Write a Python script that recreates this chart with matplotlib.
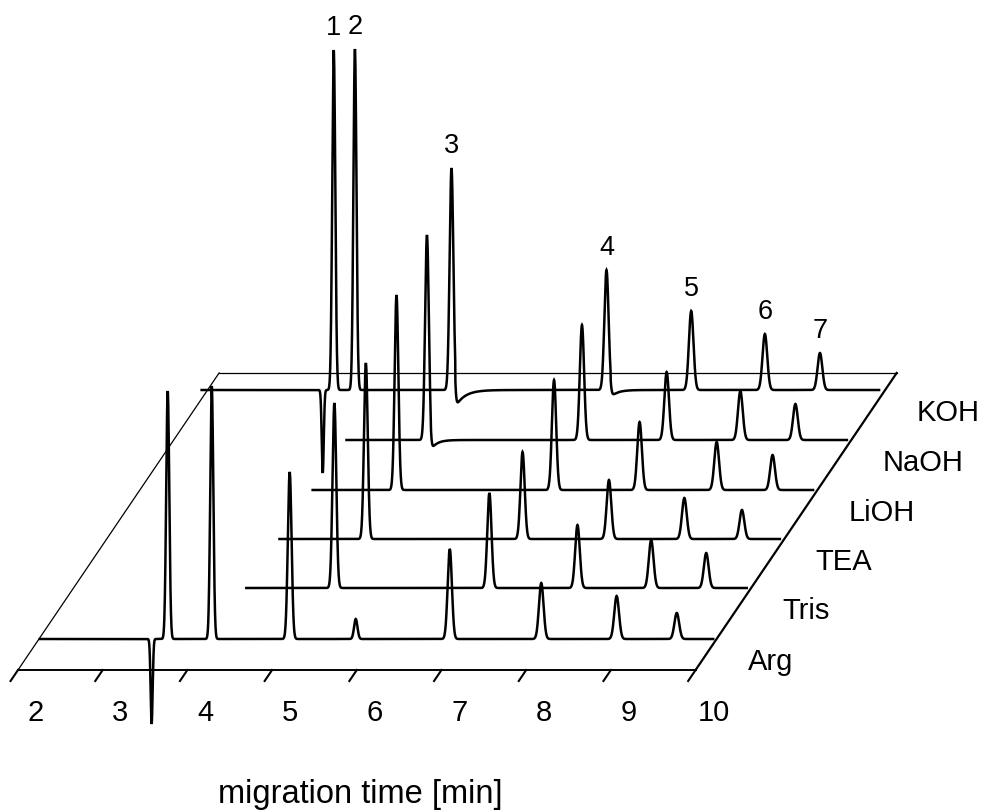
"""
Stacked electropherograms of the seven analytes with different background-electrolyte counter-ions.
"""

import matplotlib

matplotlib.use("Agg")
import matplotlib.pyplot as plt
import matplotlib.transforms as mtransforms
import numpy as np

# traces, front to back
BUFFERS = ["Arg", "Tris", "TEA", "LiOH", "NaOH", "KOH"]
T_START = [2.01, 4.04, 4.04, 4.04, 4.04, 1.93]
T_END = [9.96, 9.95, 9.95, 9.95, 9.95, 9.93]

# peak migration times [min], heights and widths [min]
ARG_TIMES = [3.52, 4.04, 4.96, 5.74, 6.85, 7.93, 8.82, 9.53]
ARG_HEIGHTS = [248, 253, 167, 20, 90, 56, 43, 26]
ARG_WIDTHS = [0.018, 0.018, 0.022, 0.02, 0.025, 0.027, 0.028, 0.028]

TRIS_TIMES = [5.08, 6.91, 7.95, 8.82, 9.47]
TRIS_HEIGHTS = [185, 95, 63, 48, 35]
TRIS_WIDTHS = [0.022, 0.025, 0.027, 0.028, 0.028]

TEA_TIMES = [5.06, 6.91, 7.93, 8.82, 9.50]
TEA_HEIGHTS = [176, 87, 59, 41, 29]
TEA_WIDTHS = [0.022, 0.025, 0.027, 0.028, 0.028]

LIOH_TIMES = [5.03, 6.89, 7.90, 8.81, 9.47]
LIOH_HEIGHTS = [195, 110, 68, 48, 35]
LIOH_WIDTHS = [0.022, 0.025, 0.027, 0.028, 0.028]

NAOH_TIMES = [4.99, 6.82, 7.82, 8.69, 9.34]
NAOH_HEIGHTS = [205, 115, 68, 49, 36]
NAOH_WIDTHS = [0.022, 0.025, 0.027, 0.028, 0.028]

KOH_TIMES = [3.49, 3.74, 4.88, 6.71, 7.71, 8.58, 9.23]
KOH_HEIGHTS = [340, 341, 222, 120, 79, 56, 37]
KOH_WIDTHS = [0.018, 0.018, 0.022, 0.025, 0.027, 0.028, 0.028]
PEAK_NUMBERS = ["1", "2", "3", "4", "5", "6", "7"]

# negative system peaks (time, depth) and undershoots after peaks (time, depth, tau)
SYSTEM_DIPS = {"Arg": [(3.33, 85)], "KOH": [(3.36, 83)]}
UNDERSHOOTS = {"KOH": [(4.925, 17, 0.11), (6.76, 7, 0.08)], "NaOH": [(5.035, 10, 0.07)]}

PEAKS = {
    "Arg": (ARG_TIMES, ARG_HEIGHTS, ARG_WIDTHS),
    "Tris": (TRIS_TIMES, TRIS_HEIGHTS, TRIS_WIDTHS),
    "TEA": (TEA_TIMES, TEA_HEIGHTS, TEA_WIDTHS),
    "LiOH": (LIOH_TIMES, LIOH_HEIGHTS, LIOH_WIDTHS),
    "NaOH": (NAOH_TIMES, NAOH_HEIGHTS, NAOH_WIDTHS),
    "KOH": (KOH_TIMES, KOH_HEIGHTS, KOH_WIDTHS),
}

X_TICKS = [2, 3, 4, 5, 6, 7, 8, 9, 10]

# layout of the pseudo-3D floor
DEPTH = [31, 82, 131, 180, 230, 280]
FLOOR_DEPTH = 297
PX_PER_MIN = 84.7
SLANT = 0.677 / PX_PER_MIN  # horizontal shift [min] per unit of depth
FONT = "Liberation Sans"


def trace_signal(t, name):
    times, heights, widths = PEAKS[name]
    y = np.zeros_like(t)
    for t0, h, w in zip(times, heights, widths):
        y += h * np.exp(-0.5 * ((t - t0) / w) ** 2)
    for t0, a in SYSTEM_DIPS.get(name, []):
        y -= a * np.exp(-0.5 * ((t - t0) / 0.012) ** 2)
    for t0, a, tau in UNDERSHOOTS.get(name, []):
        y -= np.where(t >= t0, a * np.exp(-np.clip(t - t0, 0, None) / tau), 0.0)
    return y


def main() -> None:
    fig = plt.figure(figsize=(9.83, 8.10), dpi=100)
    ax = fig.add_axes([0, 0, 1, 1])
    ax.set_xlim(2 - 18 / PX_PER_MIN, 2 + 965 / PX_PER_MIN)
    ax.set_ylim(-140, 670)
    ax.axis("off")

    shear = mtransforms.Affine2D.from_values(1, 0, SLANT, 1, 0, 0) + ax.transData

    # floor
    t0, t1 = X_TICKS[0], X_TICKS[-1]
    ax.plot([t0, t1], [0, 0], color="black", lw=1.4, transform=shear)
    ax.plot([t0, t1], [FLOOR_DEPTH, FLOOR_DEPTH], color="black", lw=0.9, transform=shear)
    ax.plot([t0, t0], [0, FLOOR_DEPTH], color="black", lw=0.9, transform=shear)
    ax.plot([t1, t1], [0, FLOOR_DEPTH], color="black", lw=1.6, transform=shear)

    for tk in X_TICKS:
        ax.plot([tk, tk], [0, -11], color="black", lw=1.5, transform=shear)
        ax.text(tk + 0.21, -43, str(tk), ha="center", va="center",
                fontsize=21, family=FONT)

    ax.text(6.04, -125, "migration time [min]", ha="center", va="center",
            fontsize=23.5, family=FONT)

    # traces, back to front
    for name, start, end, depth in reversed(list(zip(BUFFERS, T_START, T_END, DEPTH))):
        t = np.arange(start, end, 0.002)
        offset = mtransforms.Affine2D().translate(SLANT * depth, depth) + ax.transData
        ax.plot(t, trace_signal(t, name), color="black", lw=1.8,
                solid_joinstyle="miter", transform=offset)
        ax.text(t1 + 0.555, depth - 23, name, ha="left", va="center",
                fontsize=21, family=FONT, transform=shear)
        if name == "KOH":
            for pt, ph, label in zip(KOH_TIMES, KOH_HEIGHTS, PEAK_NUMBERS):
                ax.text(pt, ph + 22, label, ha="center", va="center",
                        fontsize=19.5, family=FONT, transform=offset)

    fig.savefig("out.png", dpi=100)
    plt.close(fig)


if __name__ == "__main__":
    main()
